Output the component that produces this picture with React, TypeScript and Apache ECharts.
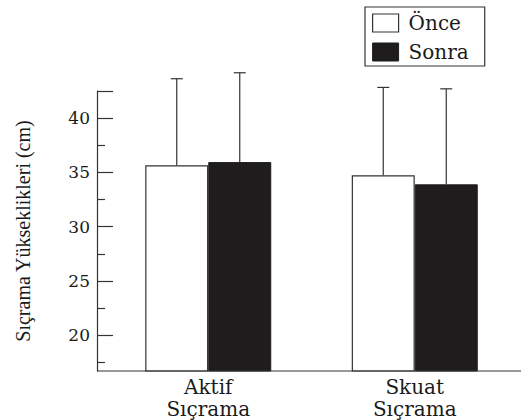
import React, { useEffect, useRef } from "react";
import * as echarts from "echarts";

const categories = ["Aktif\nSıçrama", "Skuat\nSıçrama"];
const seriesNames = ["Önce", "Sonra"];
const onceValues = [35.65, 34.73];
const sonraValues = [35.95, 33.9];
const onceSD = [7.98, 8.1];
const sonraSD = [8.23, 8.8];
const yLabelValues = [20, 25, 30, 35, 40];
const yMajorTicks = [20, 25, 30, 35, 40, 42.5];
const yMinorTicks = [17.5, 22.5, 27.5, 32.5, 37.5];
const yMin = 16.7;
const yMax = 42.5;
const yAxisTitle = "Sıçrama Yükseklikleri (cm)";

const BAR_W = 63;
const INK = "#333";
const TEXT = "#1a1a1a";

function errSeries(name: string, means: number[], sds: number[], offset: number) {
  return {
    type: "custom",
    name,
    clip: false,
    z: 5,
    encode: { x: 0, y: 1 },
    data: means.map((m, i) => [i, m, m + sds[i]]),
    renderItem: (params: any, api: any) => {
      const idx = api.value(0);
      const base = api.coord([idx, api.value(1)]);
      const top = api.coord([idx, api.value(2)]);
      const x = base[0] + offset;
      const st = { stroke: INK, lineWidth: 1.2 };
      return {
        type: "group",
        children: [
          { type: "line", shape: { x1: x, y1: base[1], x2: x, y2: top[1] }, style: st },
          { type: "line", shape: { x1: x - 6, y1: top[1], x2: x + 6, y2: top[1] }, style: st },
        ],
      };
    },
  };
}

export default function App() {
  const ref = useRef<HTMLDivElement>(null);
  useEffect(() => {
    if (!ref.current) return;
    const chart = echarts.init(ref.current, null, { renderer: "svg" });
    chart.setOption({
      animation: false,
      backgroundColor: "#fff",
      grid: { left: 105, right: 3, top: 91, bottom: 49 },
      legend: {
        orient: "vertical",
        left: 365,
        top: 7,
        padding: [6, 16, 4, 7],
        borderColor: INK,
        borderWidth: 1.2,
        itemWidth: 26,
        itemHeight: 18,
        itemGap: 9,
        icon: "rect",
        textStyle: { fontFamily: "DejaVu Serif", fontSize: 20, color: TEXT, lineHeight: 18, padding: [0, 0, 0, 5] },
        data: [
          { name: seriesNames[0], itemStyle: { color: "#fff", borderColor: INK, borderWidth: 1.2 } },
          { name: seriesNames[1], itemStyle: { color: "#1e1c1d", borderColor: "#1e1c1d", borderWidth: 1 } },
        ],
      },
      xAxis: {
        type: "category",
        data: categories,
        axisLine: { show: false },
        axisTick: { show: false },
        axisLabel: { fontFamily: "DejaVu Serif", fontSize: 20, lineHeight: 22, margin: 5, color: TEXT },
      },
      yAxis: [
        {
          type: "value",
          position: "left",
          offset: 8,
          min: yMin,
          max: yMax,
          name: yAxisTitle,
          nameLocation: "middle",
          nameRotate: 90,
          nameGap: 64,
          nameTextStyle: { fontFamily: "Liberation Serif", fontSize: 20, color: TEXT },
          splitLine: { show: false },
          axisLine: { show: true, lineStyle: { color: INK, width: 1.2 } },
          axisTick: { show: true, inside: true, length: 16, customValues: yMajorTicks, lineStyle: { color: INK, width: 1.2 } },
          axisLabel: { customValues: yLabelValues, margin: 7, fontFamily: "DejaVu Serif", fontSize: 17, color: TEXT },
        },
        {
          type: "value",
          position: "left",
          offset: 8,
          min: yMin,
          max: yMax,
          splitLine: { show: false },
          axisLine: { show: false },
          axisLabel: { show: false },
          axisTick: { show: true, inside: true, length: 8, customValues: yMinorTicks, lineStyle: { color: INK, width: 1.2 } },
        },
      ],
      graphic: [
        { type: "line", shape: { x1: 97, y1: 371, x2: 521, y2: 371 }, style: { stroke: INK, lineWidth: 1.2 }, z: 10 },
      ],
      series: [
        {
          type: "bar",
          name: seriesNames[0],
          data: onceValues,
          barWidth: BAR_W,
          barGap: "0%",
          itemStyle: { color: "#fff", borderColor: INK, borderWidth: 1.2 },
        },
        {
          type: "bar",
          name: seriesNames[1],
          data: sonraValues,
          barWidth: BAR_W,
          barGap: "0%",
          itemStyle: { color: "#1e1c1d", borderColor: "#1e1c1d", borderWidth: 1 },
        },
        errSeries("errOnce", onceValues, onceSD, -BAR_W / 2),
        errSeries("errSonra", sonraValues, sonraSD, BAR_W / 2),
      ],
    });
    return () => chart.dispose();
  }, []);
  return <div ref={ref} style={{ position: "fixed", left: 0, top: 0, width: 521, height: 420 }} />;
}
